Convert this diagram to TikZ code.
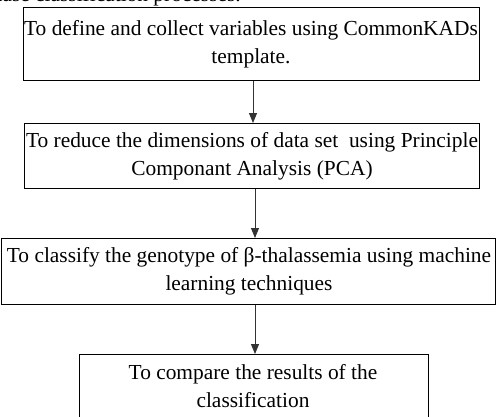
\documentclass[tikz,border=0pt]{standalone}
\usepackage{fontspec}
\setmainfont{Liberation Serif}
\usetikzlibrary{arrows.meta}
\begin{document}
\begin{tikzpicture}[x=1pt,y=-1pt,
  stepbox/.style={draw=black,line width=0.9pt,inner sep=0pt},
  steptext/.style={align=center,font=\fontsize{21.4}{28}\selectfont,inner sep=0pt},
  flow/.style={draw=black!80,line width=0.9pt,-{Triangle[length=10pt,width=8pt]}}]
\useasboundingbox (0,0) rectangle (496,416);
\begin{scope}
\clip (0,0) rectangle (496,416);
% tail of the preceding paragraph, cut by the page edge
\node[anchor=base east,inner sep=0pt,font=\fontsize{21.4}{28}\selectfont] (prev) at (241,1.5) {phase classification processes.};
% boxes
\node[stepbox,minimum width=456pt,minimum height=73pt,anchor=north west] (b1) at (23,7) {};
\node[stepbox,minimum width=455pt,minimum height=65pt,anchor=north west] (b2) at (24,123) {};
\node[stepbox,minimum width=494pt,minimum height=66pt,anchor=north west] (b3) at (1,238) {};
\node[stepbox,minimum width=349pt,minimum height=80pt,anchor=north west] (b4) at (79,354) {};
% texts
\node[steptext] (t1) at (251,44) {To define and collect variables using CommonKADs\\template.};
\node[steptext] (t2) at (252,156) {To reduce the dimensions of data set\ \ using Principle\\Componant Analysis (PCA)};
\node[steptext] (t3) at (249,271) {To classify the genotype of β-thalassemia using machine\\learning techniques};
\node[steptext] (t4) at (253,386) {To compare the results of the\\classification};
% connectors
\draw[flow] (b1.south -| 253,0) -- (b2.north -| 253,0);
\draw[flow] (b2.south -| 255,0) -- (b3.north -| 255,0);
\draw[flow] (b3.south -| 255,0) -- (b4.north -| 255,0);
\end{scope}
\end{tikzpicture}
\end{document}
